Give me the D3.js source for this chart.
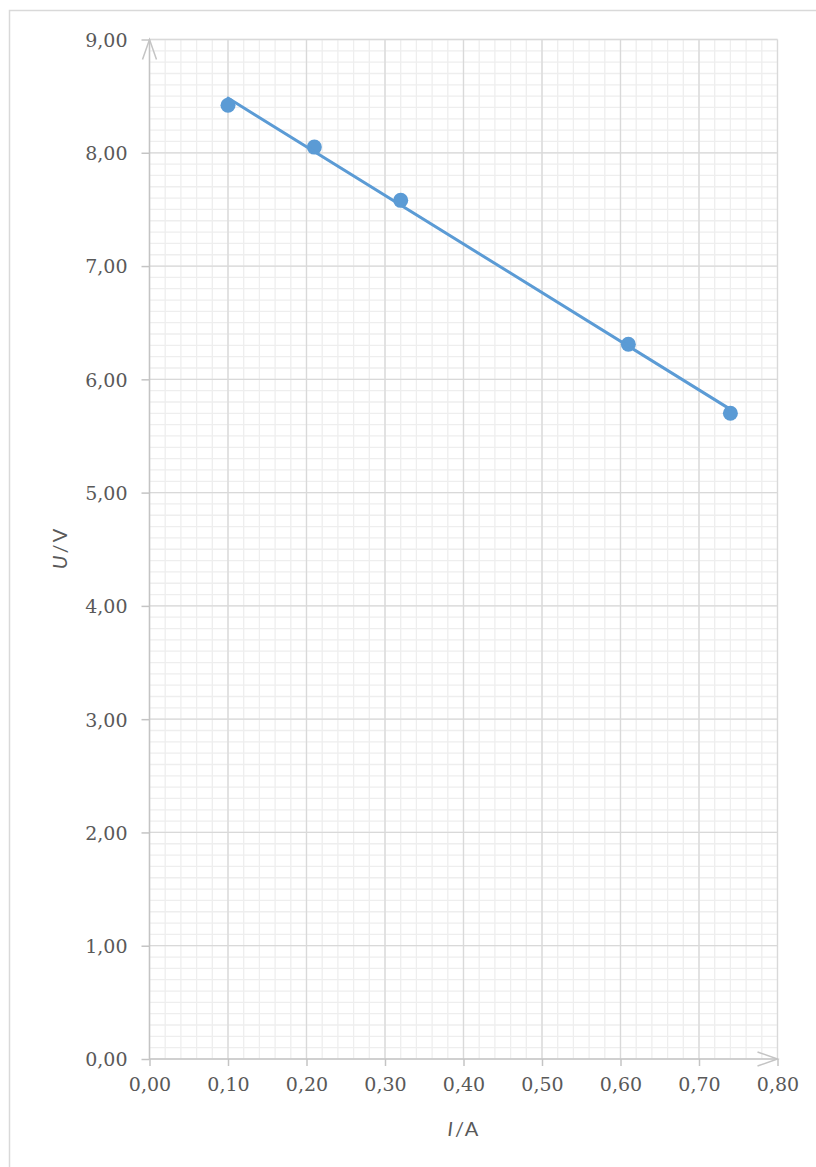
<!DOCTYPE html>
<html>
<head>
<meta charset="utf-8">
<script src="https://cdn.jsdelivr.net/npm/d3@7/dist/d3.min.js"></script>
<style>
  html, body { margin: 0; padding: 0; background: #fff; }
  svg { display: block; }
</style>
</head>
<body>
<svg id="chart" width="816" height="1167"></svg>
<script>
// Measured current I (A) and terminal voltage U (V)
const currentA = [0.10, 0.21, 0.32, 0.61, 0.74];
const voltageV = [8.42, 8.05, 7.58, 6.31, 5.70];

// Axis ticks
const xTicks = [0, 0.1, 0.2, 0.3, 0.4, 0.5, 0.6, 0.7, 0.8];
const yTicks = [0, 1, 2, 3, 4, 5, 6, 7, 8, 9];
const xMinorStep = 0.02;
const yMinorStep = 0.1;

const svg = d3.select("#chart");
const plot = { left: 149.5, right: 777.5, top: 39.5, bottom: 1059 };

const x = d3.scaleLinear().domain([0, 0.8]).range([plot.left, plot.right]);
const y = d3.scaleLinear().domain([0, 9]).range([plot.bottom, plot.top]);

const fmt = v => v.toFixed(2).replace(".", ",");

// Chart area border
svg.append("rect")
  .attr("x", 9.5).attr("y", 10.5)
  .attr("width", 830).attr("height", 1200)
  .attr("fill", "#fff")
  .attr("stroke", "#d9d9d9").attr("stroke-width", 1.5);

// Minor grid
const xMinor = d3.range(0, 0.8 + 1e-9, xMinorStep);
const yMinor = d3.range(0, 9 + 1e-9, yMinorStep);
const grid = svg.append("g");
grid.selectAll("line.xm").data(xMinor).join("line")
  .attr("x1", d => x(d)).attr("x2", d => x(d))
  .attr("y1", plot.top).attr("y2", plot.bottom)
  .attr("stroke", "#eeeeee").attr("stroke-width", 1.3);
grid.selectAll("line.ym").data(yMinor).join("line")
  .attr("y1", d => y(d)).attr("y2", d => y(d))
  .attr("x1", plot.left).attr("x2", plot.right)
  .attr("stroke", "#eeeeee").attr("stroke-width", 1.3);

// Major grid
grid.selectAll("line.xM").data(xTicks.slice(1)).join("line")
  .attr("x1", d => x(d)).attr("x2", d => x(d))
  .attr("y1", plot.top).attr("y2", plot.bottom)
  .attr("stroke", "#d9d9d9").attr("stroke-width", 1.3);
grid.selectAll("line.yM").data(yTicks.slice(1)).join("line")
  .attr("y1", d => y(d)).attr("y2", d => y(d))
  .attr("x1", plot.left).attr("x2", plot.right)
  .attr("stroke", "#d9d9d9").attr("stroke-width", 1.3);

// Axes
const axisColor = "#c4c4c4";
const xAxis = svg.append("g")
  .attr("transform", `translate(0,${plot.bottom})`)
  .call(d3.axisBottom(x).tickValues(xTicks).tickFormat(fmt).tickSize(7).tickPadding(12));
const yAxis = svg.append("g")
  .attr("transform", `translate(${plot.left},0)`)
  .call(d3.axisLeft(y).tickValues(yTicks).tickFormat(fmt).tickSize(8).tickPadding(14));

[xAxis, yAxis].forEach(g => {
  g.select(".domain").remove();
  g.selectAll(".tick line").attr("stroke", axisColor).attr("stroke-width", 1.5);
  g.selectAll(".tick text")
    .attr("fill", "#595959")
    .style("font-family", "'DejaVu Serif', serif")
    .style("font-size", "19px");
});
yAxis.selectAll(".tick text").attr("dy", "0.36em");

// Axis lines with open arrowheads
svg.append("line")
  .attr("x1", plot.left).attr("x2", plot.left)
  .attr("y1", plot.bottom).attr("y2", plot.top)
  .attr("stroke", axisColor).attr("stroke-width", 1.5);
svg.append("line")
  .attr("x1", plot.left).attr("x2", plot.right)
  .attr("y1", plot.bottom).attr("y2", plot.bottom)
  .attr("stroke", axisColor).attr("stroke-width", 1.5);
svg.append("path")
  .attr("d", `M${plot.left - 7},${plot.top + 20}L${plot.left},${plot.top}L${plot.left + 7},${plot.top + 20}`)
  .attr("fill", "none").attr("stroke", axisColor).attr("stroke-width", 1.5);
svg.append("path")
  .attr("d", `M${plot.right - 20},${plot.bottom - 7}L${plot.right},${plot.bottom}L${plot.right - 20},${plot.bottom + 7}`)
  .attr("fill", "none").attr("stroke", axisColor).attr("stroke-width", 1.5);

// Axis titles
const titleFont = "Lato, 'Open Sans', sans-serif";
const xTitle = svg.append("text")
  .attr("x", 464).attr("y", 1136)
  .attr("text-anchor", "middle")
  .attr("fill", "#595959")
  .style("font-family", titleFont).style("font-size", "20px")
  .style("letter-spacing", "2px");
xTitle.append("tspan").attr("font-style", "italic").text("I");
xTitle.append("tspan").text("/A");

const yTitle = svg.append("text")
  .attr("transform", "translate(67,548) rotate(-90)")
  .attr("text-anchor", "middle")
  .attr("fill", "#595959")
  .style("font-family", titleFont).style("font-size", "20px")
  .style("letter-spacing", "2px");
yTitle.append("tspan").attr("font-style", "italic").text("U");
yTitle.append("tspan").text("/V");

// Least-squares linear trendline over the measured range
const pts = currentA.map((c, i) => ({ x: c, y: voltageV[i] }));
const mx = d3.mean(currentA), my = d3.mean(voltageV);
const sxy = d3.sum(pts, p => (p.x - mx) * (p.y - my));
const sxx = d3.sum(pts, p => (p.x - mx) ** 2);
const slope = sxy / sxx, intercept = my - slope * mx;
const xr = d3.extent(currentA);
const color = "#5b9bd5";

// Markers
svg.append("g").selectAll("circle").data(pts).join("circle")
  .attr("cx", d => x(d.x)).attr("cy", d => y(d.y))
  .attr("r", 7.5).attr("fill", color);

svg.append("line")
  .attr("x1", x(xr[0])).attr("y1", y(intercept + slope * xr[0]))
  .attr("x2", x(xr[1])).attr("y2", y(intercept + slope * xr[1]))
  .attr("stroke", color).attr("stroke-width", 3)
  .attr("stroke-linecap", "round");
</script>
</body>
</html>
